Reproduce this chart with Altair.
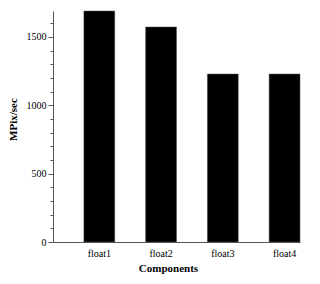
import altair as alt
import pandas as pd

components = ["float1", "float2", "float3", "float4"]
mpix = [1690, 1573, 1229, 1229]
y_ticks = list(range(0, 1700, 100))

df = pd.DataFrame({"Components": components, "MPix/sec": mpix})

font = "Liberation Serif"

chart = alt.Chart(df).mark_bar(color="black", stroke="#555", strokeWidth=0.5).encode(
    x=alt.X(
        "Components:N",
        sort=components,
        scale=alt.Scale(paddingInner=0.5, paddingOuter=0.25, align=1),
        axis=alt.Axis(
            title="Components", labelAngle=0, ticks=False, domainColor="#555",
            labelFont=font, labelFontSize=10, labelColor="black", labelPadding=6,
            titleFont=font, titleFontSize=11, titleFontWeight="bold", titleColor="black",
            titleX=115, titleY=20, titleAlign="center",
        ),
    ),
    y=alt.Y(
        "MPix/sec:Q",
        scale=alt.Scale(domain=[0, 1690], nice=False),
        axis=alt.Axis(
            title="MPix/sec", values=y_ticks, format="d", grid=False,
            labelExpr="datum.value % 500 === 0 ? datum.label : ''",
            tickSize={"condition": {"test": "datum.value % 500 === 0", "value": 5}, "value": 3},
            tickColor="#555", domainColor="#555",
            labelFont=font, labelFontSize=10, labelColor="black", labelPadding=2,
            titleFont=font, titleFontSize=11, titleFontWeight="bold", titleColor="black",
            titleX=-35, titleY=108, titleAlign="center",
        ),
    ),
).properties(
    width=247, height=231,
    autosize=alt.AutoSizeParams(type="none"),
    padding={"left": 53, "top": 11, "right": 20, "bottom": 42},
).configure_view(stroke=None)

chart.save("out.html", embed_options={"renderer": "svg", "actions": False})
